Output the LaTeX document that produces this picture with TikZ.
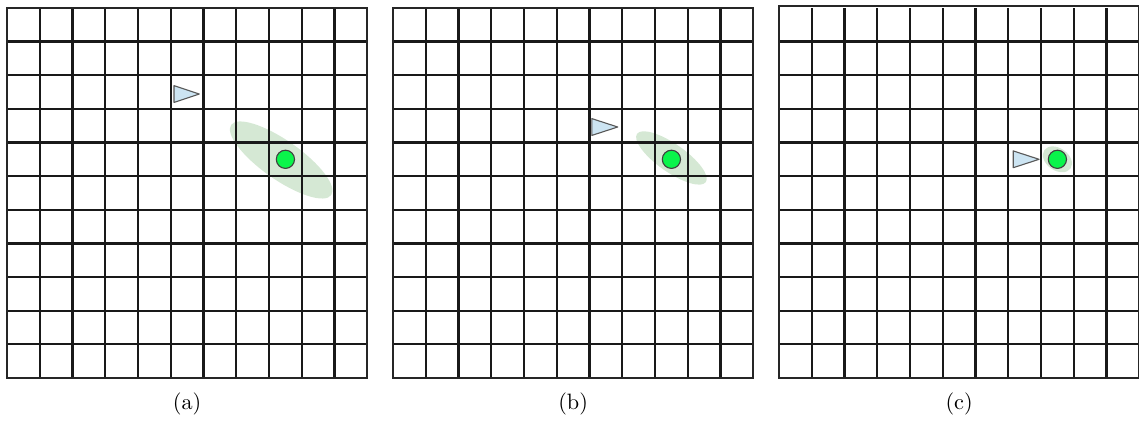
\documentclass[tikz,border=0pt]{standalone}
\usepackage{xcolor}
\usepackage{tikz}
\usetikzlibrary{positioning}
\definecolor{beliefgreen}{RGB}{213,232,212}
\definecolor{robotblue}{RGB}{204,228,242}
\definecolor{goalgreen}{RGB}{10,245,75}

\begin{document}
\begin{tikzpicture}[
        x=14.74pt, y=15.14pt,
        gridline/.style={line width=1pt, black!90},
        border/.style={line width=1pt, black!85, line join=miter},
        robot/.style={draw=black!65, fill=robotblue, line width=0.5pt, line join=round},
        goal/.style={circle, draw=black!75, fill=goalgreen, line width=0.5pt, minimum size=8.2pt, inner sep=0pt},
        belief/.style={fill=beliefgreen},
        caption/.style={font=\normalsize}
    ]
        \useasboundingbox (0pt,0pt) rectangle (512.55pt,190.35pt);

        % panel (a)
        \begin{scope}[shift={(3.15pt,20.25pt)}]
            \fill[belief, rotate around={-35:(8.37,6.48)}] (8.37,6.48) ellipse [x radius=27.5pt, y radius=8.8pt];
            \foreach \i in {1,...,10} {
                \draw[gridline] (\i,0) -- (\i,11);
                \draw[gridline] (0,\i) -- (11,\i);
            }
            \draw[border] (0,0) rectangle (11,11);
            \draw[robot] (5.10,8.19) -- (5.87,8.44) -- (5.10,8.69) -- cycle;
            \node[goal] (goalA) at (8.5,6.5) {};
            \node[caption] (capA) at (5.5,-0.77) {(a)};
        \end{scope}

        % panel (b)
        \begin{scope}[shift={(176.85pt,20.25pt)}]
            \fill[belief, rotate around={-35:(8.5,6.54)}] (8.5,6.54) ellipse [x radius=18.9pt, y radius=6.3pt];
            \foreach \i in {1,...,10} {
                \draw[gridline] (\i,0) -- (\i,11);
                \draw[gridline] (0,\i) -- (11,\i);
            }
            \draw[border] (0,0) rectangle (11,11);
            \draw[robot] (6.07,7.21) -- (6.86,7.46) -- (6.07,7.71) -- cycle;
            \node[goal] (goalB) at (8.5,6.5) {};
            \node[caption] (capB) at (5.5,-0.77) {(b)};
        \end{scope}

        % panel (c)
        \begin{scope}[shift={(350.55pt,20.25pt)}]
            \fill[belief, rotate around={-35:(8.5,6.5)}] (8.5,6.5) ellipse [x radius=7.2pt, y radius=5pt];
            \foreach \i in {1,...,10} {
                \draw[gridline] (\i,0) -- (\i,11);
                \draw[gridline] (0,\i) -- (11,\i);
            }
            \draw[border] (0,0) rectangle (11,11.05);
            \draw[robot] (7.15,6.25) -- (7.94,6.5) -- (7.15,6.75) -- cycle;
            \node[goal] (goalC) at (8.5,6.5) {};
            \node[caption] (capC) at (5.5,-0.77) {(c)};
        \end{scope}
    \end{tikzpicture}
\end{document}
